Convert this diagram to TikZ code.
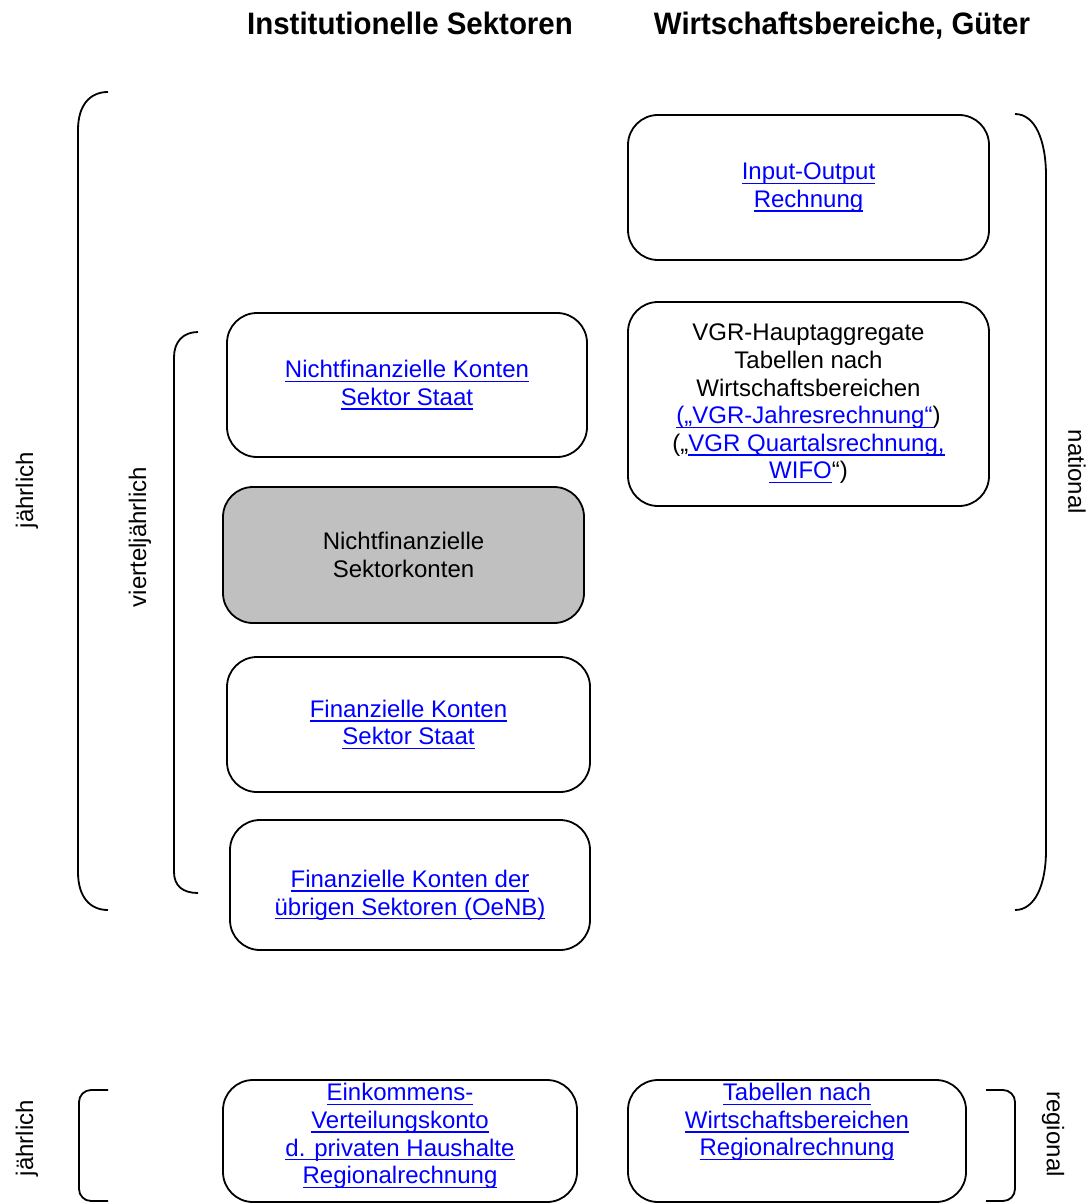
\documentclass[tikz,border=0pt]{standalone}
\usepackage{fontspec}
\setmainfont{Liberation Sans}
\usepackage{xcolor}
\usetikzlibrary{positioning}

\definecolor{linkblue}{RGB}{0,0,255}
\definecolor{boxgray}{RGB}{192,192,192}
\newcommand\lnk[1]{\textcolor{linkblue}{\setbox0\hbox{#1}\rlap{\rule[-2.2pt]{\wd0}{0.7pt}}\box0}}
\newcommand\narrow[1]{\scalebox{0.95}[1]{#1}}

\begin{document}
\begin{tikzpicture}[
        %We set the scale (one unit per pixel, y downwards) and define some styles
        x=0.5pt, y=-0.5pt,
        every node/.style={color=black, font=\fontsize{12}{13.8}\selectfont},
        konto/.style={draw, line width=0.9pt, rounded corners=15pt, align=center, inner sep=0pt},
        gray konto/.style={konto, fill=boxgray},
        bracket line/.style={line width=0.9pt},
        heading/.style={anchor=base, font=\fontsize{15.5}{17}\selectfont\bfseries}
    ]
    \useasboundingbox (0,0) rectangle (1088,1203);

    % Headings
    \node[heading] (inst) at (410,35) {\narrow{Institutionelle Sektoren}};
    \node[heading] (wirt) at (842,35) {\narrow{Wirtschaftsbereiche, Güter}};

    % National
    \begin{scope}
    \node[konto, minimum width=180.5pt, minimum height=72.5pt] (io) at (808.5,187.5)
        {\lnk{Input-Output}\\\lnk{Rechnung}};
    \node[konto, minimum width=180.5pt, minimum height=102pt] (vgr) at (808.5,404)
        {VGR-Hauptaggregate\\Tabellen nach\\Wirtschaftsbereichen\\
         \lnk{(„VGR-Jahresrechnung“})\\(„\lnk{VGR Quartalsrechnung,}\\\lnk{WIFO}“)};
    \node[konto, minimum width=180pt, minimum height=72pt] (nfstaat) at (407,385)
        {\lnk{Nichtfinanzielle Konten}\\\lnk{Sektor Staat}};
    \node[gray konto, minimum width=180.5pt, minimum height=68pt] (nfsektor) at (403.5,555)
        {Nichtfinanzielle\\Sektorkonten};
    \node[konto, minimum width=181.5pt, minimum height=67.5pt] (fstaat) at (408.5,724.5)
        {\lnk{Finanzielle Konten}\\\lnk{Sektor Staat}};
    \node[konto, minimum width=180pt, minimum height=65pt] (oenb) at (410,885) {};
    \node[align=center] (oenbtext) at (410,895) {\lnk{Finanzielle Konten der}\\\lnk{übrigen Sektoren (OeNB)}};
    \end{scope}

    % Regional
    \begin{scope}
    \node[konto, minimum width=177pt, minimum height=61pt] (ekv) at (400,1141) {};
    \node[align=center] (ekvtext) at (400,1136)
        {\lnk{Einkommens-}\\\lnk{Verteilungskonto}\\\lnk{d. privaten Haushalte}\\\lnk{Regionalrechnung}};
    \node[konto, minimum width=169pt, minimum height=61pt] (tab) at (797,1141) {};
    \node[align=center] (tabtext) at (797,1122)
        {\lnk{Tabellen nach}\\\lnk{Wirtschaftsbereichen}\\\lnk{Regionalrechnung}};
    \end{scope}

    % Brackets
    \draw[bracket line] (108,92) .. controls (90,92) and (78,105) .. (78,130)
        -- (78,872) .. controls (78,897) and (90,910) .. (108,910);
    \draw[bracket line] (1015,114) .. controls (1035,114) and (1046,140) .. (1046,176)
        -- (1046,850) .. controls (1046,885) and (1035,910) .. (1015,910);
    \draw[bracket line] (198,332) .. controls (183,332) and (174,342) .. (174,357)
        -- (174,872) .. controls (174,886) and (183,893) .. (198,893);
    \draw[bracket line, rounded corners=6pt] (108,1090) -- (79,1090) -- (79,1201) -- (108,1201);
    \draw[bracket line, rounded corners=6pt] (986,1090) -- (1015,1090) -- (1015,1201) -- (986,1201);

    % Side labels
    \node[rotate=90] (jahr) at (27,490) {jährlich};
    \node[rotate=90] (viertel) at (140,537) {vierteljährlich};
    \node[rotate=-90] (nat) at (1077,472) {national};
    \node[rotate=-90] (reg) at (1053,1134) {regional};
    \node[rotate=90] (jahrreg) at (27,1138) {jährlich};
\end{tikzpicture}
\end{document}
